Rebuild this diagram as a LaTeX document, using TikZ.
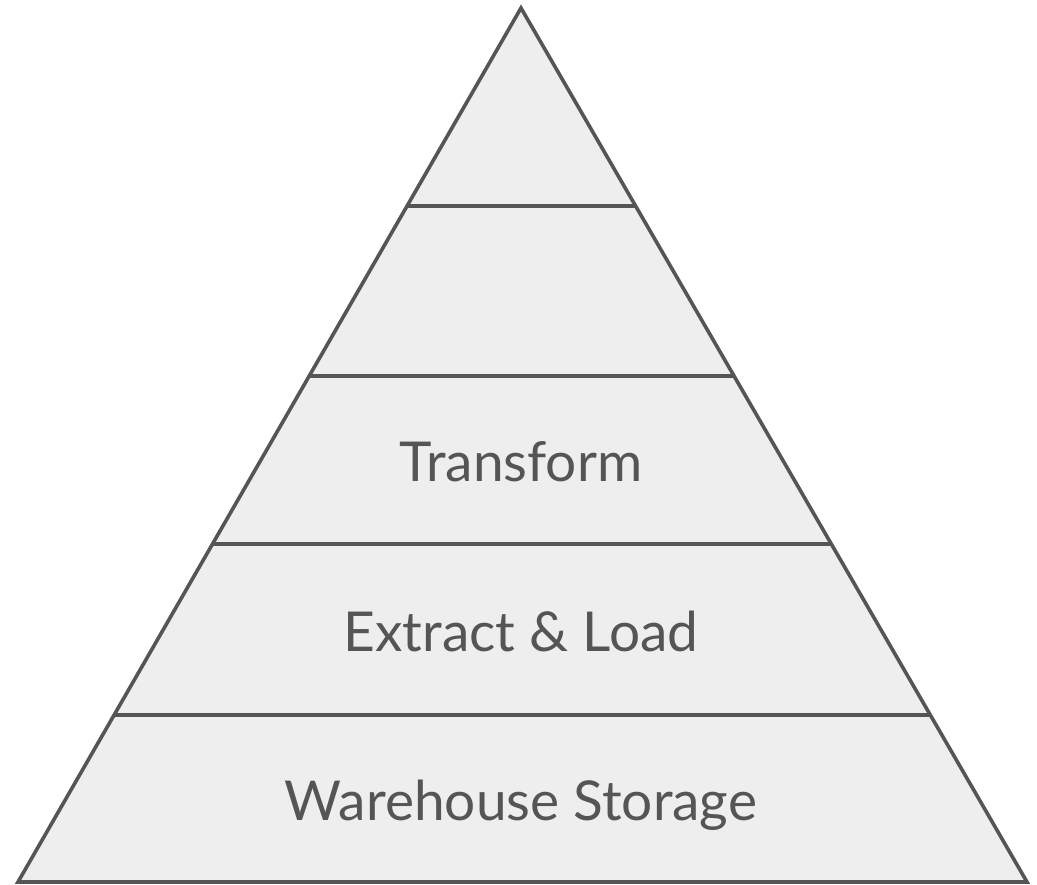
\documentclass[tikz,border=0pt]{standalone}
\usepackage{fontspec}
\setmainfont{Lato}
\definecolor{edge}{HTML}{555555}
\definecolor{band}{HTML}{EEEEEE}
\definecolor{txt}{HTML}{555555}
\tikzset{
  layerline/.style={draw=edge, line width=3.6pt},
  label/.style={text=txt, font=\fontsize{55}{66}\selectfont, inner sep=0pt, anchor=base},
}
\begin{document}
\begin{tikzpicture}[x=1pt,y=-1pt]
\useasboundingbox (0,0) rectangle (1037,885);
\coordinate (apex) at (521,8);
\coordinate (bl) at (18,882);
\coordinate (br) at (1027,882);
\fill[band] (apex) -- (br) -- (bl) -- cycle;
\foreach \y [count=\i] in {206,376,544,715}{
  \pgfmathsetmacro{\xl}{521-0.57551*(\y-8)}
  \pgfmathsetmacro{\xr}{521+0.57895*(\y-8)}
  \coordinate (l\i) at (\xl,\y);
  \coordinate (r\i) at (\xr,\y);
  \draw[layerline] (l\i) -- (r\i);
}
\draw[layerline, line join=miter] (apex) -- (br) -- (bl) -- cycle;
\node[label] (transform) at (521,482) {Transform};
\node[label] (extract) at (521,651) {Extract \& Load};
\node[label] (storage) at (521,820) {Warehouse Storage};
\end{tikzpicture}
\end{document}
